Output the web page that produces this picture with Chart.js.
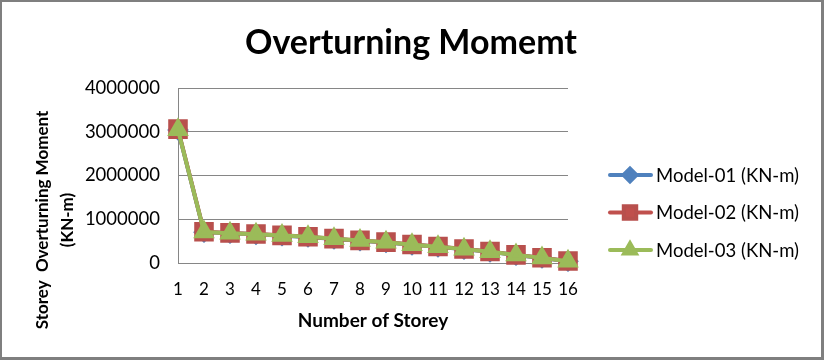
<!DOCTYPE html>
<html>
<head>
<meta charset="utf-8">
<script src="https://cdn.jsdelivr.net/npm/chart.js@4/dist/chart.umd.min.js"></script>
<style>
html,body{margin:0;padding:0;background:#fff;}
#wrap{width:824px;height:360px;position:relative;}
</style>
</head>
<body>
<div id="wrap"><canvas id="c" width="824" height="360"></canvas></div>
<script>
const storeys = ['1','2','3','4','5','6','7','8','9','10','11','12','13','14','15','16'];
const model01 = [3040000, 705000, 680000, 655000, 625000, 595000, 550000, 510000, 470000, 415000, 370000, 315000, 255000, 180000, 115000, 40000];
const model02 = [3060000, 715000, 688000, 663000, 632000, 602000, 557000, 517000, 477000, 422000, 377000, 322000, 262000, 186000, 120000, 46000];
const model03 = [3045000, 708000, 682000, 658000, 627000, 598000, 552000, 512000, 472000, 417000, 372000, 317000, 257000, 182000, 117000, 42000];
const yTicks = [0, 1000000, 2000000, 3000000, 4000000];
const seriesNames = ['Model-01 (KN-m)', 'Model-02 (KN-m)', 'Model-03 (KN-m)'];
const chartTitle = 'Overturning Momemt';
const xTitle = 'Number of Storey';
const yTitle = ['Storey  Overturning Moment', '(KN-m)'];

const FONT = 'Lato, "Open Sans", sans-serif';

const decor = {
  id: 'decor',
  beforeDraw(chart) {
    const ctx = chart.ctx;
    ctx.save();
    ctx.fillStyle = '#fff';
    ctx.fillRect(0, 0, 824, 360);
    ctx.restore();
  },
  afterDraw(chart) {
    const ctx = chart.ctx;
    ctx.save();
    // frame
    ctx.fillStyle = '#7f7f7f';
    ctx.fillRect(0, 0, 824, 2);
    ctx.fillRect(0, 0, 2, 360);
    ctx.fillRect(821, 0, 3, 360);
    ctx.fillRect(0, 357, 824, 3);
    // title
    ctx.fillStyle = '#000';
    ctx.textAlign = 'center';
    ctx.textBaseline = 'alphabetic';
    ctx.font = 'bold 34px ' + FONT;
    ctx.fillText(chartTitle, 411, 54);
    // x title
    ctx.font = 'bold 19px ' + FONT;
    ctx.fillText(xTitle, 373, 327);
    // y title
    ctx.save();
    ctx.translate(43, 220);
    ctx.rotate(-Math.PI / 2);
    ctx.font = 'bold 17px ' + FONT;
    ctx.textBaseline = 'middle';
    ctx.fillText(yTitle[0], 0, 0);
    ctx.restore();
    ctx.save();
    ctx.translate(68, 220);
    ctx.rotate(-Math.PI / 2);
    ctx.font = 'bold 17px ' + FONT;
    ctx.textBaseline = 'middle';
    ctx.fillText(yTitle[1], 0, 0);
    ctx.restore();
    // legend
    chart.data.datasets.forEach((ds, i) => {
      const y = 175 + 37.5 * i;
      ctx.strokeStyle = ds.borderColor;
      ctx.lineWidth = 4;
      ctx.lineCap = 'round';
      ctx.beginPath();
      ctx.moveTo(610, y);
      ctx.lineTo(651, y);
      ctx.stroke();
      ctx.fillStyle = ds.pointBackgroundColor;
      ctx.strokeStyle = ds.pointBorderColor;
      Chart.helpers.drawPoint(ctx, {pointStyle: ds.pointStyle, radius: ds.pointRadius * 0.8, rotation: 0, borderWidth: 1}, 630, y);
      ctx.fillStyle = '#000';
      ctx.font = '18.5px ' + FONT;
      ctx.textAlign = 'left';
      ctx.textBaseline = 'middle';
      ctx.fillText(ds.label, 656, y + 1);
    });
    ctx.restore();
  }
};

new Chart(document.getElementById('c'), {
  type: 'line',
  data: {
    labels: storeys,
    datasets: [
      {label: seriesNames[0], data: model01, borderColor: '#4F81BD', pointBackgroundColor: '#4F81BD', pointBorderColor: '#4F81BD',
       pointStyle: 'rectRot', pointRadius: 8, borderWidth: 4, order: 3, clip: false},
      {label: seriesNames[1], data: model02, borderColor: '#C0504D', pointBackgroundColor: '#C0504D', pointBorderColor: '#B8504D',
       pointStyle: 'rect', pointRadius: 11, borderWidth: 4, order: 2, clip: false},
      {label: seriesNames[2], data: model03, borderColor: '#9BBB59', pointBackgroundColor: '#9BBB59', pointBorderColor: '#9BBB59',
       pointStyle: 'triangle', pointRadius: 8.5, borderWidth: 4, order: 1, clip: false}
    ]
  },
  options: {
    responsive: false,
    animation: false,
    devicePixelRatio: 1,
    layout: {padding: {left: 0, right: 256, top: 88, bottom: 0}},
    plugins: {legend: {display: false}, title: {display: false}, tooltip: {enabled: false}},
    elements: {line: {tension: 0}, point: {hoverRadius: 0}},
    scales: {
      x: {
        type: 'category',
        offset: false,
        grid: {display: false, drawTicks: false},
        border: {display: true, color: '#868686', width: 1},
        ticks: {font: {family: FONT, size: 17}, color: '#000', padding: 16, autoSkip: false, maxRotation: 0},
        afterFit(scale) { scale.height = 97; }
      },
      y: {
        min: 0, max: 4000000,
        afterBuildTicks(scale) { scale.ticks = yTicks.map(v => ({value: v})); },
        grid: {color: '#868686', lineWidth: 1, drawTicks: false},
        border: {display: true, color: '#868686', width: 1},
        ticks: {font: {family: FONT, size: 18.5}, color: '#000', padding: 18, callback: v => String(v)},
        afterFit(scale) { scale.width = 178; }
      }
    }
  },
  plugins: [decor]
});
</script>
</body>
</html>
